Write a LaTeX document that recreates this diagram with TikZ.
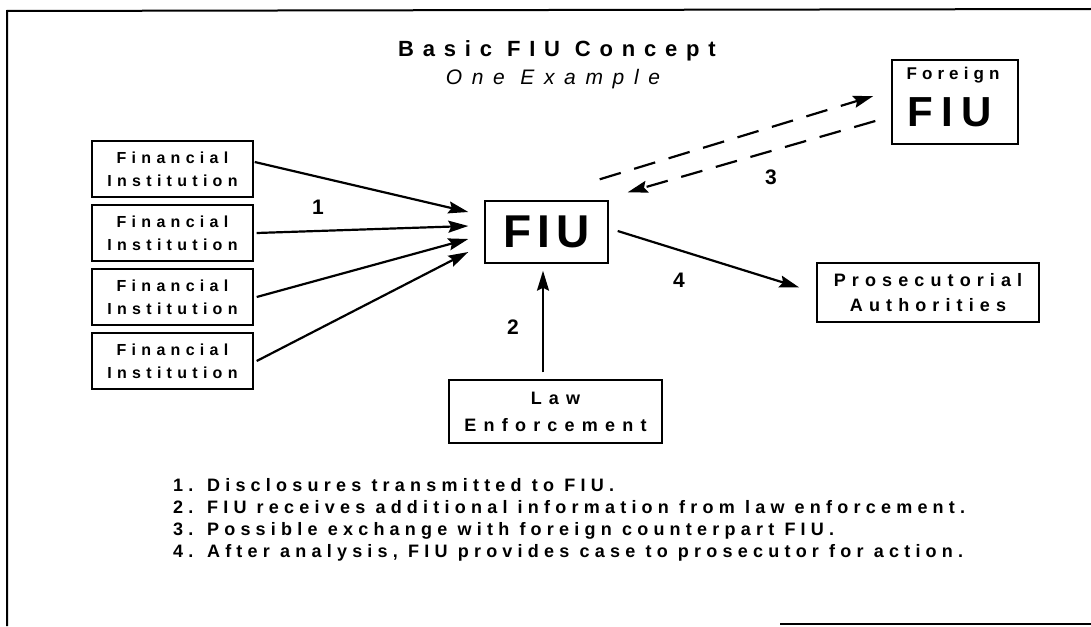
\documentclass[tikz,border=0pt]{standalone}
\usepackage{fontspec}
\setmainfont{Liberation Sans}
\usetikzlibrary{arrows.meta,calc}
\newcommand{\lsp}[1]{\addfontfeature{LetterSpace=#1}}
\begin{document}
\begin{tikzpicture}[x=1pt,y=-1pt,
  box/.style={draw,line width=1.4pt,align=center,inner sep=0pt},
  arr/.style={line width=2.2pt,-{Stealth[length=20pt,width=12pt,inset=3pt]}},
  darr/.style={arr,dash pattern=on 22pt off 14pt},
  fitext/.style={font=\fontsize{16}{23}\selectfont\bfseries\lsp{33}},
  num/.style={font=\fontsize{21}{21}\selectfont\bfseries},
  legend/.style={anchor=base west,inner sep=0pt,font=\fontsize{18}{18}\selectfont\bfseries\lsp{29}}
]
\useasboundingbox (0,0) rectangle (1091,626);
\fill[white] (0,0) rectangle (1091,626);
% frame
\draw[line width=2pt] (7,626) -- (7,11) -- (1091,9);
\draw[line width=1.8pt] (780,624) -- (1091,624);
% title
\node[font=\fontsize{22}{22}\selectfont\bfseries\lsp{40}] (title) at (557,51) {Basic FIU Concept};
\node[font=\fontsize{21}{21}\selectfont\itshape\lsp{46}] (subtitle) at (553,79) {One Example};
% financial institutions
\node[box,minimum width=161,minimum height=56,fitext] (fi1) at (172.5,169) {Financial\\Institution};
\node[box,minimum width=161,minimum height=56,fitext] (fi2) at (172.5,233) {Financial\\Institution};
\node[box,minimum width=161,minimum height=56,fitext] (fi3) at (172.5,297) {Financial\\Institution};
\node[box,minimum width=161,minimum height=56,fitext] (fi4) at (172.5,361) {Financial\\Institution};
% FIU
\node[box,minimum width=123,minimum height=62,font=\fontsize{46}{46}\selectfont\bfseries\lsp{14}] (fiu) at (546.5,232) {FIU};
% foreign FIU
\node[box,minimum width=126,minimum height=84] (ffiu) at (955,102) {};
\node[font=\fontsize{17}{17}\selectfont\bfseries\lsp{30}] (ffiua) at (953,75) {Foreign};
\node[font=\fontsize{42}{42}\selectfont\bfseries\lsp{20}] (ffiub) at (950,112) {FIU};
% prosecutorial
\node[box,minimum width=222,minimum height=59,font=\fontsize{18}{25}\selectfont\bfseries\lsp{34}] (pros) at (928,292.5) {Prosecutorial\\Authorities};
% law enforcement
\node[box,minimum width=213,minimum height=63,font=\fontsize{18}{27}\selectfont\bfseries\lsp{40}] (le) at (555.5,411.5) {Law\\Enforcement};
% arrows from FIs
\coordinate (t1) at ($(fiu.west)+(-16,-20)$);
\coordinate (t2) at ($(fiu.west)+(-16,-6)$);
\coordinate (t3) at ($(fiu.west)+(-16,7)$);
\coordinate (t4) at ($(fiu.west)+(-16,20)$);
\draw[arr] ($(fi1.east)+(1,-7)$) -- (t1);
\draw[arr] ($(fi2.east)+(3,0)$) -- (t2);
\draw[arr] ($(fi3.east)+(3,0)$) -- (t3);
\draw[arr] ($(fi4.east)+(3,0)$) -- (t4);
% dashed exchange
\draw[darr] ($(fiu.north east)+(-9,-21)$) -- ($(ffiu.west)+(-18,-6)$);
\draw[darr] ($(ffiu.west)+(-16,19)$) -- ($(fiu.north east)+(19,-8)$);
% to prosecutors
\draw[arr] ($(fiu.east)+(9,-1)$) -- ($(pros.west)+(-17,-5)$);
% from law enforcement
\draw[arr] ($(le.north)+(-12.5,-7)$) -- ($(fiu.south)+(-3.5,7)$);
% numbers
\node[num] (n1) at (318,207) {1};
\node[num] (n2) at (513,327) {2};
\node[num] (n3) at (771,177) {3};
\node[num] (n4) at (679,280) {4};
% legend
\node[legend] (l1) at (173,491) {1. Disclosures transmitted to FIU.};
\node[legend] (l2) at (173,513) {2. FIU receives additional information from law enforcement.};
\node[legend] (l3) at (173,535) {3. Possible exchange with foreign counterpart FIU.};
\node[legend] (l4) at (173,557) {4. After analysis, FIU provides case to prosecutor for action.};
\end{tikzpicture}
\end{document}
